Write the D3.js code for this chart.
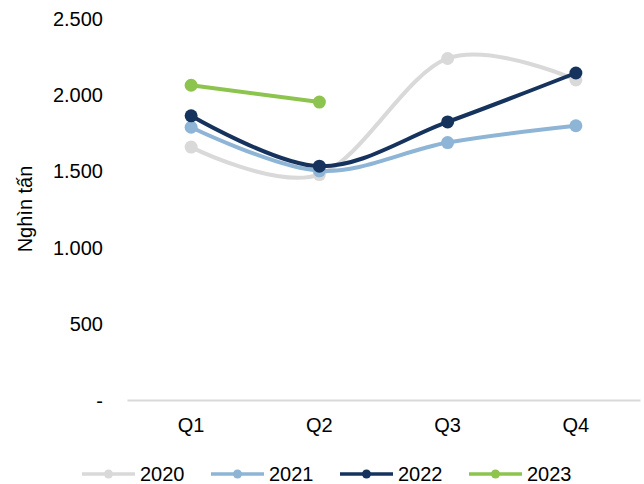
<!DOCTYPE html>
<html>
<head>
<meta charset="utf-8">
<script src="https://cdn.jsdelivr.net/npm/d3@7"></script>
<style>
  html, body { margin: 0; padding: 0; background: #ffffff; }
  svg { display: block; font-family: "Liberation Sans", Arial, sans-serif; }
</style>
</head>
<body>
<svg id="chart" width="644" height="484"></svg>
<script>
// Quarterly volumes, thousand tonnes
const quarters = ["Q1", "Q2", "Q3", "Q4"];
const years = ["2020", "2021", "2022", "2023"];
const values2020 = [1655, 1475, 2235, 2095];
const values2021 = [1785, 1500, 1685, 1795];
const values2022 = [1860, 1530, 1820, 2140];
const values2023 = [2060, 1950];
const seriesColors = ["#d9d9d9", "#8eb4d6", "#16335e", "#8dc44e"];
const yTickValues = [0, 500, 1000, 1500, 2000, 2500];
const yTickLabels = ["-", "500", "1.000", "1.500", "2.000", "2.500"];
const yAxisTitle = "Nghìn tấn";

const seriesValues = [values2020, values2021, values2022, values2023];
const series = years.map((y, i) => ({
  name: y,
  color: seriesColors[i],
  points: seriesValues[i].map((v, j) => ({ q: quarters[j], v }))
}));

const svg = d3.select("#chart");
const fontSize = 20;

const x = d3.scaleBand().domain(quarters).range([127, 640]);
const y = d3.scaleLinear().domain([0, 2500]).range([400, 18]);
const cx = q => x(q) + x.bandwidth() / 2;

// Y axis labels (no axis line, no ticks)
const yAxis = d3.axisLeft(y)
  .tickValues(yTickValues)
  .tickSize(0)
  .tickPadding(0)
  .tickFormat((d, i) => yTickLabels[i]);
const gy = svg.append("g").attr("transform", "translate(103,0)").call(yAxis);
gy.select(".domain").remove();
gy.selectAll("text")
  .attr("font-size", fontSize)
  .attr("font-family", "Liberation Sans, Arial, sans-serif")
  .attr("fill", "#000")
  .attr("dy", "0.35em");

// Category axis along the baseline
const xAxis = d3.axisBottom(x).tickSize(0).tickPadding(0);
const gx = svg.append("g").attr("transform", `translate(0,${y(0)})`).call(xAxis);
gx.select(".domain").attr("stroke", "#d9d9d9").attr("stroke-width", 2);
gx.selectAll("text")
  .attr("font-size", fontSize)
  .attr("font-family", "Liberation Sans, Arial, sans-serif")
  .attr("fill", "#000")
  .attr("dy", "0")
  .attr("y", 32);

// Axis title
svg.append("text")
  .attr("transform", "translate(25,209) rotate(-90)")
  .attr("text-anchor", "middle")
  .attr("dominant-baseline", "central")
  .attr("font-size", fontSize)
  .attr("fill", "#000")
  .text(yAxisTitle);

// Smoothed lines with markers
const line = d3.line()
  .x(d => cx(d.q))
  .y(d => y(d.v))
  .curve(d3.curveCatmullRom.alpha(0));

const gSeries = svg.append("g");
series.forEach(s => {
  const g = gSeries.append("g");
  g.append("path")
    .datum(s.points)
    .attr("d", line)
    .attr("fill", "none")
    .attr("stroke", s.color)
    .attr("stroke-width", 4)
    .attr("stroke-linecap", "round")
    .attr("stroke-linejoin", "round");
  g.selectAll("circle")
    .data(s.points)
    .join("circle")
    .attr("cx", d => cx(d.q))
    .attr("cy", d => y(d.v))
    .attr("r", 6.5)
    .attr("fill", s.color);
});

// Legend
const legendY = 474;
const legendX = d3.scalePoint().domain(years).range([82, 469]);
const lg = svg.append("g");
series.forEach(s => {
  const x0 = legendX(s.name);
  const g = lg.append("g").attr("transform", `translate(${x0},${legendY})`);
  g.append("line")
    .attr("x1", 0).attr("x2", 53)
    .attr("y1", 0).attr("y2", 0)
    .attr("stroke", s.color)
    .attr("stroke-width", 3.5);
  g.append("circle")
    .attr("cx", 26.5).attr("cy", 0).attr("r", 4.5)
    .attr("fill", s.color);
  g.append("text")
    .attr("x", 58)
    .attr("y", 0)
    .attr("dy", "0.36em")
    .attr("font-size", fontSize)
    .attr("fill", "#000")
    .text(s.name);
});
</script>
</body>
</html>
